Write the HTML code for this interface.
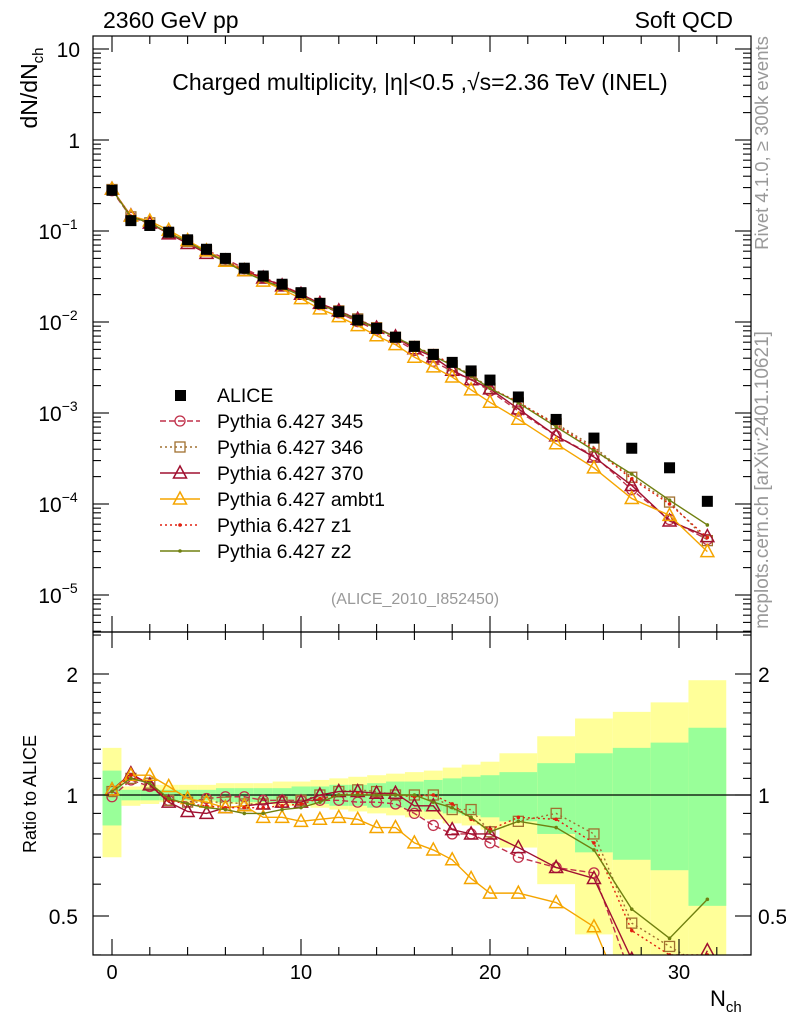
<!DOCTYPE html>
<html><head><meta charset="utf-8">
<style>
html,body{margin:0;padding:0;background:#fff;}
svg{display:block;font-family:"Liberation Sans",sans-serif;}
</style></head>
<body>
<svg id="chart" width="786" height="1024" viewBox="0 0 786 1024" xmlns="http://www.w3.org/2000/svg">
<defs>
<clipPath id="clipMain"><rect x="93" y="36" width="658" height="596"/></clipPath>
<clipPath id="clipRatio"><rect x="93" y="632" width="658" height="323"/></clipPath>
</defs>
<g id="bands" clip-path="url(#clipRatio)"></g>
<g id="marks"></g>
<g id="axes"></g>
<text x="103" y="28" font-size="23">2360 GeV pp</text>
<text x="733" y="28" font-size="23" text-anchor="end">Soft QCD</text>
<text x="420" y="90" font-size="23" text-anchor="middle">Charged multiplicity, |η|&lt;0.5 ,√s=2.36 TeV (INEL)</text>
<text transform="translate(37,88) rotate(-90)" font-size="23" text-anchor="middle">dN/dN<tspan font-size="15" dy="6">ch</tspan></text>
<text transform="translate(36,794) rotate(-90)" font-size="18" text-anchor="middle">Ratio to ALICE</text>
<text x="710" y="1006" font-size="22">N<tspan font-size="15" dy="6">ch</tspan></text>
<text transform="translate(768,143) rotate(-90)" font-size="18.5" fill="#999" text-anchor="middle">Rivet 4.1.0, ≥ 300k events</text>
<text transform="translate(768,480) rotate(-90)" font-size="19" fill="#999" text-anchor="middle">mcplots.cern.ch [arXiv:2401.10621]</text>
<text x="415" y="604" font-size="16" fill="#999" text-anchor="middle">(ALICE_2010_I852450)</text>
<g id="legend"></g>
</svg>
<script>
const nch = [0,1,2,3,4,5,6,7,8,9,10,11,12,13,14,15,16,17,18,19,20,21.5,23.5,25.5,27.5,29.5,31.5];
const binHalf = [0.5,0.5,0.5,0.5,0.5,0.5,0.5,0.5,0.5,0.5,0.5,0.5,0.5,0.5,0.5,0.5,0.5,0.5,0.5,0.5,0.5,1,1,1,1,1,1];
const alice = [0.28,0.13,0.115,0.097,0.08,0.063,0.05,0.039,0.032,0.026,0.021,0.016,0.013,0.0105,0.0085,0.0068,0.0054,0.0044,0.0036,0.0029,0.0023,0.0015,0.00085,0.00053,0.00041,0.00025,0.000107];
const r345 = [0.99,1.09,1.05,0.97,0.96,0.98,0.99,0.99,0.97,0.97,0.97,0.97,0.97,0.96,0.96,0.95,0.90,0.84,0.80,0.80,0.76,0.70,0.66,0.64,0.35,0.27,0.38];
const r346 = [1.02,1.10,1.07,0.97,0.96,0.96,0.96,0.95,0.95,0.96,0.97,1.0,1.02,1.03,1.02,1.0,1.0,1.0,0.92,0.92,0.81,0.86,0.90,0.80,0.48,0.42,0.37];
const r370 = [1.03,1.13,1.06,0.96,0.91,0.90,0.93,0.94,0.95,0.96,0.96,1.0,1.02,1.02,1.01,1.01,0.94,0.94,0.82,0.80,0.80,0.74,0.66,0.62,0.39,0.26,0.41];
const rambt1 = [1.03,1.12,1.12,1.05,0.98,0.96,0.93,0.94,0.88,0.88,0.86,0.87,0.88,0.87,0.83,0.83,0.76,0.73,0.69,0.62,0.57,0.57,0.54,0.47,0.28,0.30,0.28];
const rz1 = [1.02,1.12,1.07,0.97,0.95,0.94,0.93,0.93,0.93,0.94,0.95,0.98,1.0,1.01,1.0,1.0,0.99,1.0,0.95,0.87,0.82,0.88,0.87,0.76,0.46,0.40,0.40];
const rz2 = [1.02,1.10,1.07,0.98,0.95,0.93,0.92,0.90,0.90,0.92,0.93,0.96,1.0,1.0,1.0,1.0,1.0,0.96,0.93,0.88,0.81,0.86,0.83,0.73,0.52,0.44,0.55];
const yTop = [1.31,1.05,1.06,1.06,1.06,1.06,1.07,1.07,1.07,1.08,1.08,1.09,1.10,1.11,1.12,1.13,1.14,1.15,1.17,1.19,1.21,1.27,1.40,1.55,1.61,1.70,1.93];
const gTop = [1.15,1.03,1.03,1.03,1.03,1.03,1.04,1.04,1.04,1.04,1.05,1.05,1.06,1.06,1.07,1.08,1.08,1.09,1.10,1.11,1.12,1.14,1.20,1.27,1.31,1.35,1.47];
const gLo = [0.84,0.97,0.97,0.97,0.97,0.97,0.96,0.96,0.96,0.96,0.95,0.95,0.94,0.94,0.93,0.93,0.92,0.91,0.90,0.89,0.88,0.86,0.80,0.72,0.69,0.65,0.53];
const yLo = [0.70,0.94,0.95,0.96,0.96,0.96,0.95,0.95,0.95,0.94,0.94,0.93,0.92,0.91,0.90,0.89,0.88,0.87,0.85,0.84,0.82,0.74,0.60,0.45,0.30,0.30,0.30];
const xTicks = [0,10,20,30];
const mainTicks = [1,0,-1,-2,-3,-4,-5];
const mainTickLabels = ["10","1","10","10","10","10","10"];
const mainTickExp = ["","","−1","−2","−3","−4","−5"];
const ratioTicks = [2,1,0.5];
const ratioTickLabels = ["2","1","0.5"];

const NS="http://www.w3.org/2000/svg";
const X0=93,X1=751,YT=36,YM=632,YB=955;
const xs = v => 112 + (v)*18.9;
const ym = v => 140 - 91*Math.log10(v);
const yr = v => 795 - 121*Math.log2(v);
function mk(tag, attrs, parent){const e=document.createElementNS(NS,tag);for(const k in attrs)e.setAttribute(k,attrs[k]);parent.appendChild(e);return e;}
const bands=document.getElementById('bands'), marks=document.getElementById('marks'), axes=document.getElementById('axes'), legend=document.getElementById('legend');

nch.forEach((c,i)=>{
  const a=xs(c-binHalf[i]), b=xs(c+binHalf[i]);
  let r=mk('rect',{x:a,y:yr(yTop[i]),width:b-a,height:yr(yLo[i])-yr(yTop[i]),fill:'#ffff99'},bands);
  
  
  r=mk('rect',{x:a,y:yr(gTop[i]),width:b-a,height:yr(gLo[i])-yr(gTop[i]),fill:'#99ff99'},bands);
  
  
});
let one=mk('line',{x1:X0,x2:X1,y1:yr(1),y2:yr(1),stroke:'#000','stroke-width':1.2},bands);



const series=[
 {name:'Pythia 6.427 345',r:r345,color:'#c0304a',dash:'6,3',marker:'circle'},
 {name:'Pythia 6.427 346',r:r346,color:'#a07030',dash:'2,3',marker:'square'},
 {name:'Pythia 6.427 370',r:r370,color:'#a01030',dash:'',marker:'triangle'},
 {name:'Pythia 6.427 ambt1',r:rambt1,color:'#f5a500',dash:'',marker:'triangle'},
 {name:'Pythia 6.427 z1',r:rz1,color:'#e02010',dash:'2,3',marker:'dot'},
 {name:'Pythia 6.427 z2',r:rz2,color:'#708010',dash:'',marker:'dot'}
];
function marker(g,type,x,y,color){
  let e;
  if(type==='circle') e=mk('circle',{cx:x,cy:y,r:5,fill:'none',stroke:color,'stroke-width':1.3},g);
  else if(type==='square') e=mk('rect',{x:x-5,y:y-5,width:10,height:10,fill:'none',stroke:color,'stroke-width':1.3},g);
  else if(type==='triangle') e=mk('polygon',{points:`${x},${y-7} ${x-6.5},${y+5} ${x+6.5},${y+5}`,fill:'none',stroke:color,'stroke-width':1.5},g);
  else e=mk('circle',{cx:x,cy:y,r:1.8,fill:color},g);
  return e;
}
series.forEach((s,si)=>{
  const gm=mk('g',{'clip-path':'url(#clipMain)'},marks);
  
  
  const gr=mk('g',{'clip-path':'url(#clipRatio)'},marks);
  
  
  const pm=nch.map((c,i)=>xs(c)+','+ym(s.r[i]*alice[i])).join(' ');
  const pr=nch.map((c,i)=>xs(c)+','+yr(s.r[i])).join(' ');
  const a={fill:'none',stroke:s.color,'stroke-width':1.4};
  if(s.dash)a['stroke-dasharray']=s.dash;
  mk('polyline',Object.assign({points:pm},a),gm);
  mk('polyline',Object.assign({points:pr},a),gr);
  nch.forEach((c,i)=>{
    const m1=marker(gm,s.marker,xs(c),ym(s.r[i]*alice[i]),s.color);
    
    
    const m2=marker(gr,s.marker,xs(c),yr(s.r[i]),s.color);
    
    
  });
  const ly=421+si*26;
  const le=mk('g',{},legend);
  
  
  mk('line',Object.assign({x1:160,x2:200,y1:ly,y2:ly},a),le);
  marker(le,s.marker,180,ly,s.color);
  const t=mk('text',{x:217,y:ly+7,'font-size':19.5},le);t.textContent=s.name;
});
const ga=mk('g',{'clip-path':'url(#clipMain)'},marks);


nch.forEach((c,i)=>{
  const r=mk('rect',{x:xs(c)-5.5,y:ym(alice[i])-5.5,width:11,height:11,fill:'#000'},ga);
  
  
});
{const le=mk('g',{},legend);


mk('rect',{x:175,y:390,width:11,height:11,fill:'#000'},le);
const t=mk('text',{x:217,y:402,'font-size':19.5},le);t.textContent='ALICE';}

mk('rect',{x:X0,y:YT,width:X1-X0,height:YM-YT,fill:'none',stroke:'#000','stroke-width':1.2},axes);
mk('rect',{x:X0,y:YM,width:X1-X0,height:YB-YM,fill:'none',stroke:'#000','stroke-width':1.2},axes);
function tick(x1,y1,x2,y2){mk('line',{x1,y1,x2,y2,stroke:'#000','stroke-width':1.1},axes);}
for(let v=0;v<=32;v+=2){
  const x=xs(v), L=(v%10===0)?16:8;
  tick(x,YT,x,YT+L);tick(x,YM,x,YM-L);tick(x,YM,x,YM+L);tick(x,YB,x,YB-L);
}
xTicks.forEach(v=>{const t=mk('text',{x:xs(v),y:979,'font-size':20,'text-anchor':'middle'},axes);t.textContent=v;
});
for(let d=-6;d<=1;d++){
  for(let m=1;m<10;m++){
    const y=ym(m*Math.pow(10,d)); if(y<YT||y>YM)continue;
    const L=m===1?16:8; tick(X0,y,X0+L,y);tick(X1,y,X1-L,y);
  }
}
mainTicks.forEach((d,i)=>{
  const t=mk('text',{x:mainTickExp[i]?58:80,y:ym(Math.pow(10,d))+8,'font-size':21,'text-anchor':mainTickExp[i]?'middle':'end'},axes);
  t.textContent=mainTickLabels[i];
  if(mainTickExp[i]){const s=mk('tspan',{'font-size':14,dy:-10},t);s.textContent=mainTickExp[i];}
  
});
[0.4,0.5,0.6,0.7,0.8,0.9,1,1.1,1.2,1.3,1.4,1.5,1.6,1.7,1.8,1.9,2,2.5].forEach(v=>{
  const y=yr(v); if(y<YM||y>YB)return;
  const L=(v===0.5||v===1||v===2)?16:8; tick(X0,y,X0+L,y);tick(X1,y,X1-L,y);
});
ratioTicks.forEach((v,i)=>{
  let t=mk('text',{x:78,y:yr(v)+8,'font-size':21,'text-anchor':'end'},axes);t.textContent=ratioTickLabels[i];
  
  t=mk('text',{x:758,y:yr(v)+8,'font-size':21},axes);t.textContent=ratioTickLabels[i];
  
});
</script>
</body></html>
